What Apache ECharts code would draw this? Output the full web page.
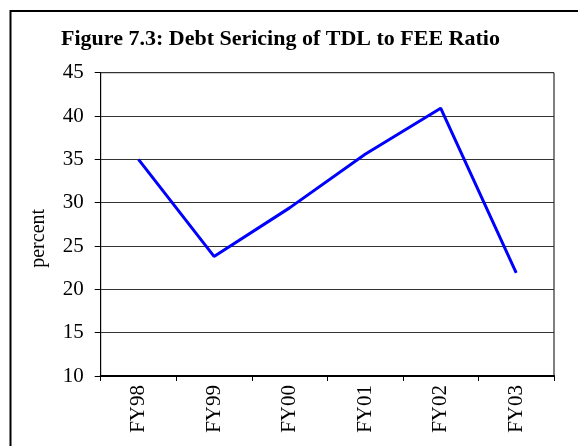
<!DOCTYPE html>
<html>
<head>
<meta charset="utf-8">
<script src="https://cdn.jsdelivr.net/npm/echarts@6/dist/echarts.min.js"></script>
<style>
  html, body { margin: 0; padding: 0; background: #fff; }
  #chart { width: 578px; height: 446px; }
</style>
</head>
<body>
<div id="chart"></div>
<script>
// data
const years = ['FY98', 'FY99', 'FY00', 'FY01', 'FY02', 'FY03'];
const ratio = [35.0, 23.8, 29.4, 35.6, 40.9, 21.9];
const yTicks = { min: 10, max: 45, step: 5 };

const chartDom = document.getElementById('chart');
const myChart = echarts.init(chartDom, null, { renderer: 'canvas' });

const serif = '"Liberation Serif", "DejaVu Serif", serif';

const option = {
    backgroundColor: '#fff',
    animation: false,
    title: {
        text: 'Figure 7.3: Debt Sericing of TDL to FEE Ratio',
        left: 61, top: 28, padding: 0,
        textStyle: { fontFamily: serif, fontWeight: 'bold', fontSize: 22, color: '#000' }
    },
    // outer frame (runs off the right and bottom edges like the reference)
    graphic: [{
        type: 'rect',
        shape: { x: 10.5, y: 11, width: 640, height: 520 },
        style: { fill: null, stroke: '#000', lineWidth: 2 },
        silent: true
    }],
    grid: {
        left: 100.7, right: 24, top: 72.7, bottom: 70,
        show: true, borderColor: '#000', borderWidth: 1,
        containLabel: false
    },
    xAxis: {
        type: 'category',
        data: years,
        boundaryGap: true,
        axisLine: { lineStyle: { color: '#000', width: 2 } },
        axisTick: { show: true, length: 5, lineStyle: { color: '#000' } },
        axisLabel: {
            rotate: 90, margin: 9,
            fontFamily: serif, fontSize: 21, color: '#000'
        },
        splitLine: { show: false }
    },
    yAxis: {
        type: 'value',
        min: yTicks.min, max: yTicks.max, interval: yTicks.step,
        name: 'percent',
        nameLocation: 'middle',
        nameRotate: 90,
        nameGap: 52,
        nameTextStyle: { fontFamily: serif, fontSize: 20, color: '#000', padding: [0, 28, 0, 0] },
        axisLine: { show: true, lineStyle: { color: '#000', width: 1 } },
        axisTick: { show: true, length: 6, lineStyle: { color: '#000' } },
        axisLabel: { margin: 17, fontFamily: serif, fontSize: 21, color: '#000' },
        splitLine: { show: true, lineStyle: { color: '#333', width: 1 } }
    },
    series: [{
        type: 'line',
        data: ratio,
        showSymbol: false,
        symbol: 'none',
        lineStyle: { color: '#0000ff', width: 3 },
        itemStyle: { color: '#0000ff' }
    }]
};
myChart.setOption(option);
new ResizeObserver(() => myChart.resize()).observe(chartDom);
</script>
</body>
</html>
